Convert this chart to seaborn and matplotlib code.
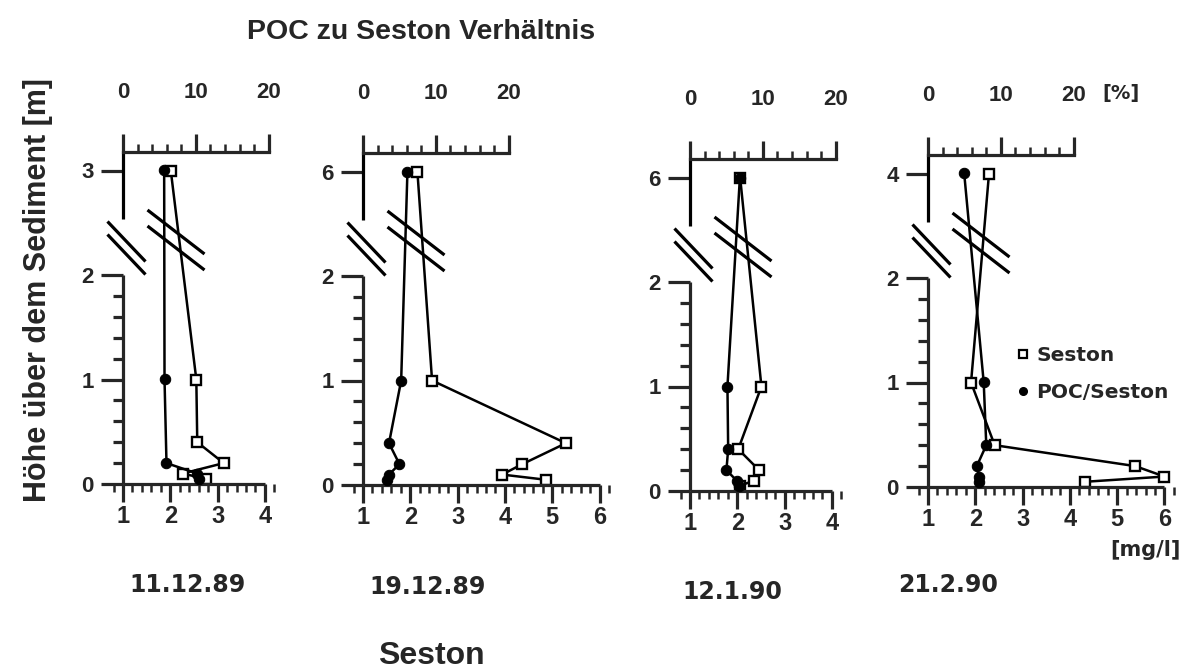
import numpy as np
import matplotlib
matplotlib.use("Agg")
import matplotlib.pyplot as plt
from matplotlib.lines import Line2D
from matplotlib.ticker import FixedLocator, FixedFormatter, MultipleLocator
import seaborn as sns

# ---------------------------------------------------------------- data
dates = ["11.12.89", "19.12.89", "12.1.90", "21.2.90"]
top_heights = [3, 6, 6, 4]          # uppermost sampling height per date [m]
seston_max = [4, 6, 4, 6]           # end of the Seston axis [mg/l]

# Seston [mg/l] (open squares)
seston_h_1 = [3, 1, 0.4, 0.2, 0.1, 0.05]
seston_1 = [2.01, 2.55, 2.57, 3.13, 2.26, 2.75]
seston_h_2 = [6, 1, 0.4, 0.2, 0.1, 0.05]
seston_2 = [2.15, 2.46, 5.29, 4.37, 3.94, 4.87]
seston_h_3 = [6, 1, 0.4, 0.2, 0.1, 0.05]
seston_3 = [2.06, 2.51, 2.02, 2.46, 2.36, 2.05]
seston_h_4 = [4, 1, 0.4, 0.2, 0.1, 0.05]
seston_4 = [2.29, 1.91, 2.41, 5.38, 6.0, 4.32]

# POC/Seston ratio [%] (filled circles)
poc_h_1 = [3, 1, 0.2, 0.1, 0.05]
poc_1 = [5.65, 5.7, 5.97, 10.2, 10.5]
poc_h_2 = [6, 1, 0.4, 0.2, 0.1, 0.05]
poc_2 = [6.1, 5.24, 3.57, 5.0, 3.57, 3.33]
poc_h_3 = [6, 1, 0.4, 0.2, 0.1, 0.05]
poc_3 = [6.85, 5.14, 5.24, 5.0, 6.4, 6.7]
poc_h_4 = [4, 1, 0.4, 0.2, 0.1, 0.05]
poc_4 = [4.97, 7.65, 8.0, 6.7, 7.0, 7.0]

seston_heights = [seston_h_1, seston_h_2, seston_h_3, seston_h_4]
seston_values = [seston_1, seston_2, seston_3, seston_4]
poc_heights = [poc_h_1, poc_h_2, poc_h_3, poc_h_4]
poc_values = [poc_1, poc_2, poc_3, poc_4]

pct_ticks = [0, 10, 20]

# ---------------------------------------------------------------- layout
W, H = 1200, 670
sns.set_theme(style="ticks")
plt.rcParams["font.family"] = ["Liberation Sans", "DejaVu Sans"]
plt.rcParams["font.weight"] = "bold"
WIDE = ["DejaVu Sans"]

fig = plt.figure(figsize=(W / 100, H / 100), dpi=100)
fig.patch.set_facecolor("white")

SX = 47.3          # px per mg/l
SY = 104.5         # px per m (lower part of the broken axis)
PCT_SPAN = 3.08    # width of the 0-20 % scale in mg/l units
TOP_POS = 3.0      # plotted position of the uppermost height
AXIS_TOP = 3.18    # plotted position of the % axis
UPPER_LOW = 2.54   # lower end of the upper axis piece
LW_AX = 2.3
LW_DATA = 1.8

# pixel anchors: x of Seston = 1, y of height = 0
anchors = [(123, 484), (363, 485), (690, 491), (928, 487)]
date_pos = [(187, 585), (428, 587), (732, 592), (948, 585)]


def broken(top):
    k = (TOP_POS - 2.0) / (top - 2.0)

    def fwd(y):
        y = np.asarray(y, dtype=float)
        return np.where(y <= 2, y, 2 + (y - 2) * k)

    def inv(v):
        v = np.asarray(v, dtype=float)
        return np.where(v <= 2, v, 2 + (v - 2) / k)

    return fwd, inv


def fig_xy(px, py):
    return px / W, 1 - py / H


def slash_pair(cx, cy, hw, hh, gap):
    for off in (-gap / 2, gap / 2):
        xs = [cx - hw, cx + hw]
        ys = [cy - hh + off, cy + hh + off]
        fx = [x / W for x in xs]
        fy = [1 - y / H for y in ys]
        fig.add_artist(Line2D(fx, fy, transform=fig.transFigure, color="black",
                              lw=2.3, solid_capstyle="butt"))


for i in range(4):
    x1px, y0px = anchors[i]
    xmax = seston_max[i]
    top = top_heights[i]
    fwd, inv = broken(top)

    xlo, xhi = 0.75, xmax + 0.25
    ylo, yhi = -0.15, AXIS_TOP
    left = x1px + (xlo - 1) * SX
    width = (xhi - xlo) * SX
    ptop = y0px - yhi * SY
    pbot = y0px - ylo * SY
    ax = fig.add_axes([left / W, 1 - pbot / H, width / W, (pbot - ptop) / H])
    ax.set_yscale("function", functions=(fwd, inv))
    ax.set_xlim(xlo, xhi)
    ax.set_ylim(ylo, float(inv(yhi)))
    ax.patch.set_alpha(0)

    twin = ax.twiny()
    twin.set_xlim((xlo - 1) * 20 / PCT_SPAN, (xhi - 1) * 20 / PCT_SPAN)

    # Seston profile
    sns.lineplot(x=seston_values[i], y=seston_heights[i], sort=False,
                 estimator=None, ax=ax, color="black", lw=LW_DATA,
                 marker="s", markersize=7, markerfacecolor="white",
                 markeredgecolor="black", markeredgewidth=1.7, clip_on=False)
    # POC/Seston profile
    sns.lineplot(x=poc_values[i], y=poc_heights[i], sort=False,
                 estimator=None, ax=twin, color="black", lw=LW_DATA,
                 marker="o", markersize=7.5, markerfacecolor="black",
                 markeredgecolor="black", clip_on=False)
    ax.set_ylim(ylo, float(inv(yhi)))
    ax.set_xlim(xlo, xhi)
    twin.set_xlim((xlo - 1) * 20 / PCT_SPAN, (xhi - 1) * 20 / PCT_SPAN)

    # spines
    for s in ("top", "right"):
        ax.spines[s].set_visible(False)
    ax.spines["bottom"].set_position(("data", 0))
    ax.spines["bottom"].set_bounds(1, xmax)
    ax.spines["left"].set_position(("data", 1))
    ax.spines["left"].set_bounds(0, 2)
    for s in ("bottom", "left"):
        ax.spines[s].set_linewidth(LW_AX)
        ax.spines[s].set_capstyle("butt")
    for s in ("bottom", "left", "right"):
        twin.spines[s].set_visible(False)
    twin.spines["top"].set_bounds(0, 20)
    twin.spines["top"].set_linewidth(LW_AX)
    ax.plot([1, 1], [float(inv(UPPER_LOW)), float(inv(AXIS_TOP))], color="black",
            lw=LW_AX, clip_on=False, solid_capstyle="butt")

    # ticks: height
    ax.yaxis.set_major_locator(FixedLocator([0, 1, 2, top]))
    ax.yaxis.set_major_formatter(FixedFormatter(["0", "1", "2", str(top)]))
    ax.yaxis.set_minor_locator(FixedLocator([0.2, 0.4, 0.6, 0.8, 1.2, 1.4, 1.6, 1.8]))
    ax.tick_params(axis="y", which="major", length=16, width=LW_AX, pad=5,
                   labelsize=16, direction="out")
    ax.tick_params(axis="y", which="minor", length=7, width=LW_AX, direction="out")
    # ticks: Seston
    ax.xaxis.set_major_locator(FixedLocator(list(range(1, xmax + 1))))
    ax.xaxis.set_minor_locator(MultipleLocator(0.2))
    ax.tick_params(axis="x", which="major", length=13, width=LW_AX, pad=2,
                   labelsize=17, direction="out")
    ax.tick_params(axis="x", which="minor", length=6, width=1.8, direction="out")
    ax.set_xlabel("")
    ax.set_ylabel("")
    # ticks: POC/Seston
    twin.xaxis.set_major_locator(FixedLocator(pct_ticks))
    twin.xaxis.set_minor_locator(FixedLocator([2, 4, 6, 8, 12, 14, 16, 18]))
    twin.tick_params(axis="x", which="major", length=13, width=LW_AX, pad=22,
                     labelsize=16, direction="out")
    twin.tick_params(axis="x", which="minor", length=6, width=1.8, direction="out")
    twin.set_xlabel("")
    for lab in ax.get_xticklabels() + ax.get_yticklabels() + twin.get_xticklabels():
        lab.set_fontweight("bold")

    # axis break marks
    slash_pair(x1px + 3.5, y0px - 236, 19, 20, 13)
    slash_pair(x1px + 53, y0px - 244, 28.5, 22, 16)

    dx, dy = date_pos[i]
    fig.text(*fig_xy(dx, dy), dates[i], ha="center", va="center",
             fontsize=17, fontweight="bold", family=WIDE)

# ---------------------------------------------------------------- texts
fig.text(*fig_xy(421, 32), "POC zu Seston Verhältnis", ha="center", va="center",
         fontsize=20.5, fontweight="bold")
fig.text(*fig_xy(431, 656), "Seston", ha="center", va="center",
         fontsize=23, fontweight="bold")
fig.text(*fig_xy(38, 290), "Höhe über dem Sediment [m]", ha="center", va="center",
         rotation=90, fontsize=22, fontweight="bold")
fig.text(*fig_xy(1121, 93), "[%]", ha="center", va="center",
         fontsize=14, fontweight="bold", family=WIDE)
fig.text(*fig_xy(1145, 550), "[mg/l]", ha="center", va="center",
         fontsize=15, fontweight="bold", family=WIDE)

handles = [
    Line2D([], [], ls="", marker="s", markersize=5.5, markerfacecolor="white",
           markeredgecolor="black", markeredgewidth=1.6),
    Line2D([], [], ls="", marker="o", markersize=5.5, markerfacecolor="black",
           markeredgecolor="black"),
]
fig.legend(handles, ["Seston", "POC/Seston"], loc="upper left",
           bbox_to_anchor=fig_xy(1015, 346), frameon=False,
           prop={"size": 14.5, "weight": "bold", "family": WIDE},
           handletextpad=0.25, labelspacing=0.9, handlelength=0.8,
           borderpad=0, borderaxespad=0)

fig.savefig("out.png", dpi=100, facecolor="white")
